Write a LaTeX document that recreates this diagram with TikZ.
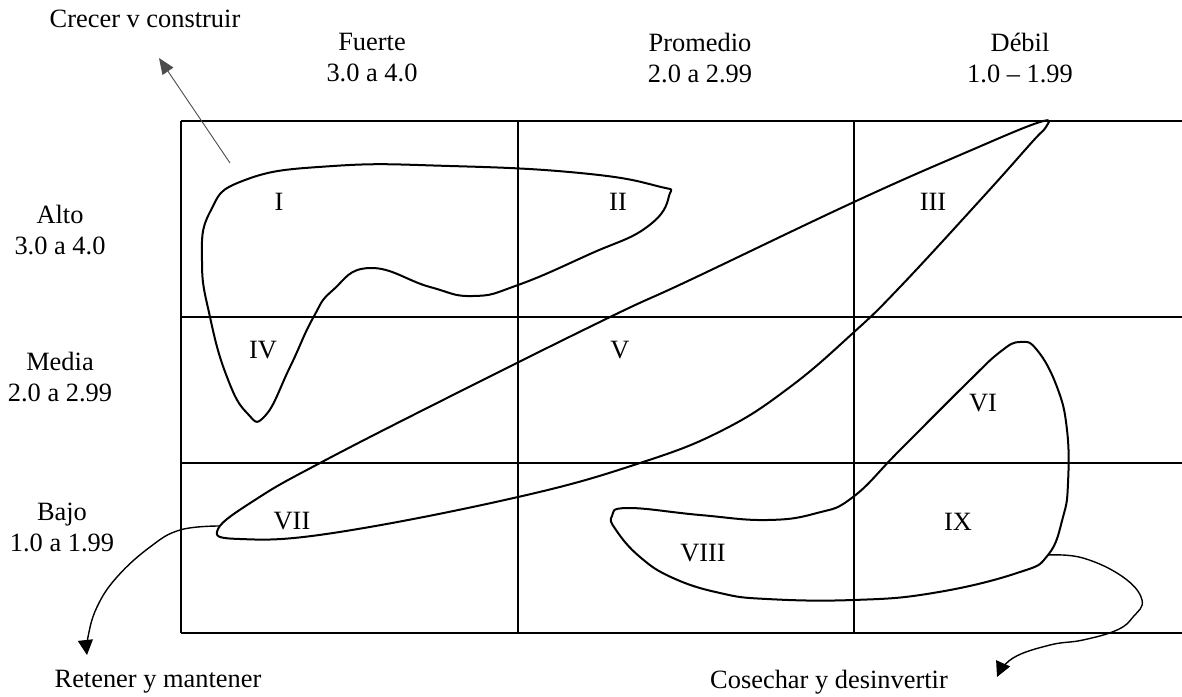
\documentclass[tikz,border=0pt]{standalone}
\usepackage{fontspec}
\setmainfont{Liberation Serif}
\usetikzlibrary{arrows.meta}
\begin{document}
\begin{tikzpicture}[x=1pt,y=-1pt,
  lbl/.style={font=\fontsize{26.4}{31}\selectfont, align=center, inner sep=0pt},
  grid/.style={line width=2.4pt},
  zone/.style={line width=2pt, line join=round},
  arr/.style={line width=1.4pt, -{Triangle[length=15pt,width=15pt]}}]
\useasboundingbox (0,0) rectangle (1182,696);
% grid
\draw[grid] (181,121) -- (1182,121);
\draw[grid] (181,317) -- (1182,317);
\draw[grid] (181,463) -- (1182,463);
\draw[grid] (181,633) -- (1182,633);
\draw[grid] (181,121) -- (181,633);
\draw[grid] (518,121) -- (518,633);
\draw[grid] (854,121) -- (854,633);
% headers
\node[lbl] (crecer) at (145,19) {Crecer v construir};
\node[lbl] (fuerte) at (372,58) {Fuerte\\3.0 a 4.0};
\node[lbl] (prom) at (700,58) {Promedio\\2.0 a 2.99};
\node[lbl] (debil) at (1020,58) {Débil\\1.0 -- 1.99};
\node[lbl] (alto) at (60,230) {Alto\\3.0 a 4.0};
\node[lbl] (media) at (60,377) {Media\\2.0 a 2.99};
\node[lbl] (bajo) at (62,527) {Bajo\\1.0 a 1.99};
\node[lbl] (retener) at (158,682) {Retener y mantener};
\node[lbl] (cosechar) at (829,682) {Cosechar y desinvertir};
% cell numerals
\node[lbl] (n1) at (279,202) {I};
\node[lbl] (n2) at (618,202) {II};
\node[lbl] (n3) at (933,202) {III};
\node[lbl] (n4) at (263,350) {IV};
\node[lbl] (n5) at (620,350) {V};
\node[lbl] (n6) at (983,403) {VI};
\node[lbl] (n7) at (292,521) {VII};
\node[lbl] (n8) at (703,553) {VIII};
\node[lbl] (n9) at (958,522) {IX};
% zone I-II-IV
\draw[zone] plot[smooth cycle, tension=0.8] coordinates {
 (669,196) (647,227) (590,254) (518,285) (473,296) (430,287)
 (370,268) (333,290) (313,318) (290,367) (265,416)
 (247,413) (227,377) (210,317) (202,262) (210,212) (245,180)
 (333,166) (450,166) (580,173) (657,186)};
% zone III-V-VII
\draw[zone] plot[smooth cycle, tension=0.7] coordinates {
 (1040,122) (967,152) (854,202) (690,280) (608,318)
 (443,400) (320,463) (258,498) (218,529) (240,539)
 (333,533) (518,497) (640,463) (723,430)
 (790,387) (853,333) (900,287) (983,197) (1033,141) (1046,127)};
% zone VI-VIII-IX
\draw[zone] plot[smooth cycle, tension=0.75] coordinates {
 (612,516) (628,508) (700,515) (767,520) (817,513) (853,497)
 (900,450) (967,383) (1000,352) (1020,342) (1037,350) (1057,387)
 (1067,430) (1068,483) (1063,517) (1048,555) (1017,573) (933,593)
 (853,600) (767,599) (720,593) (673,578) (640,557) (616,530)};
% arrows
\coordinate (c1) at (230,163);
\coordinate (c2) at (159,58);
\draw[line width=0.9pt, draw=black!70, -{Triangle[length=16pt,width=13pt]}] (c1) -- (c2);
\coordinate (r1) at (219,526);
\coordinate (r2) at (87,655);
\draw[arr] plot[smooth, tension=0.7] coordinates {(r1) (180,530) (150,547) (117,577) (97,607) (88,637) (r2)};
\coordinate (k1) at (1048,555);
\coordinate (k2) at (997,677);
\draw[arr] plot[smooth, tension=0.7] coordinates {(k1) (1083,558) (1123,577) (1142,600) (1133,617) (1117,630) (1083,640) (1050,645) (1013,658) (k2)};
\end{tikzpicture}
\end{document}
